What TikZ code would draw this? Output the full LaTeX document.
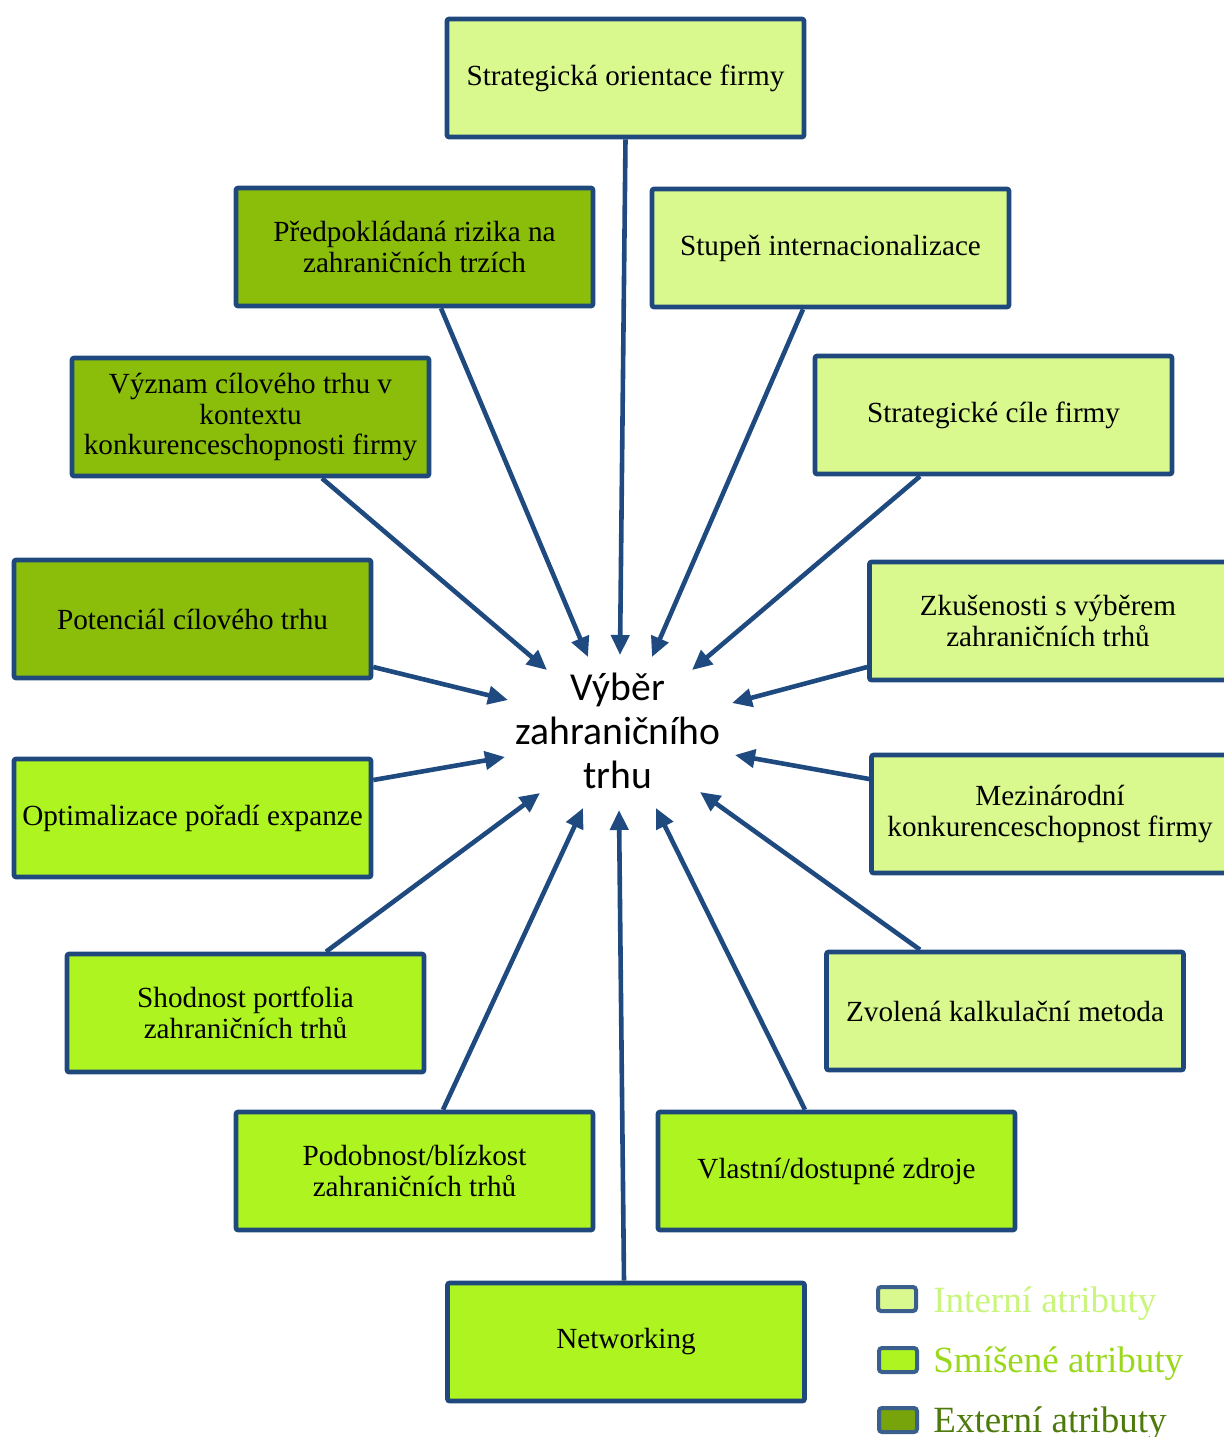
\documentclass[tikz,border=0pt]{standalone}
\usepackage{fontspec}
\setmainfont{Liberation Serif}
\newfontfamily\hubfont{Carlito}
\usetikzlibrary{arrows.meta,calc}

\definecolor{bordblue}{HTML}{1F497D}
\definecolor{arrowblue}{HTML}{1F4A80}
\definecolor{legblue}{HTML}{3A5F8C}
\definecolor{intfill}{HTML}{D9F88E}
\definecolor{mixfill}{HTML}{AEF420}
\definecolor{extfill}{HTML}{8ABE0A}
\definecolor{extleg}{HTML}{76A40A}
\definecolor{inttext}{HTML}{C9F57C}
\definecolor{mixtext}{HTML}{9AD81C}
\definecolor{exttext}{HTML}{4E7A0C}

\tikzset{
  attr/.style={draw=bordblue, line width=2.3pt, rounded corners=1pt,
    minimum width=178.5pt, minimum height=59pt, inner sep=0pt,
    align=center, font=\fontsize{14.6}{15.2}\selectfont},
  internal/.style={attr, fill=intfill},
  mixed/.style={attr, fill=mixfill},
  external/.style={attr, fill=extfill},
  feed/.style={draw=arrowblue, line width=2.3pt,
    -{Triangle[length=10pt,width=9pt]}},
  legbox/.style={draw=legblue, line width=2pt, rounded corners=1.5pt,
    minimum width=19pt, minimum height=12pt, inner sep=0pt},
  legtext/.style={anchor=base west, inner sep=0pt,
    font=\fontsize{18.5}{20}\selectfont},
}

\begin{document}
\begin{tikzpicture}[x=0.5pt, y=-0.5pt]
\useasboundingbox (0,0) rectangle (1224,1437);

% attribute boxes
\node[internal] (b1)  at (625.5,78)  {Strategická orientace firmy};
\node[external] (b2)  at (414.5,247) {Předpokládaná rizika na\\zahraničních trzích};
\node[internal] (b3)  at (830.5,248) {Stupeň internacionalizace};
\node[external] (b4)  at (250.5,417) {Význam cílového trhu v\\kontextu\\konkurenceschopnosti firmy};
\node[internal] (b5)  at (993.5,415) {Strategické cíle firmy};
\node[external] (b6)  at (192.5,619) {Potenciál cílového trhu};
\node[internal] (b7)  at (1048,621)  {Zkušenosti s výběrem\\zahraničních trhů};
\node[mixed]    (b8)  at (192.5,818) {Optimalizace pořadí expanze};
\node[internal] (b9)  at (1050,814)  {Mezinárodní\\konkurenceschopnost firmy};
\node[mixed]    (b10) at (245.5,1013) {Shodnost portfolia\\zahraničních trhů};
\node[internal] (b11) at (1005,1011) {Zvolená kalkulační metoda};
\node[mixed]    (b12) at (414.5,1171) {Podobnost/blízkost\\zahraničních trhů};
\node[mixed]    (b13) at (836.5,1171) {Vlastní/dostupné zdroje};
\node[mixed]    (b14) at (626,1342)  {Networking};

% central topic
\node[align=center, inner sep=0pt, font=\hubfont\fontsize{19.8}{22}\selectfont]
  (hub) at (618,731) {Výběr\\zahraničního\\trhu};

% arrow targets around the central topic
\coordinate (t1)  at (620,655);
\coordinate (t2)  at (588,657);
\coordinate (t3)  at (652,657);
\coordinate (t4)  at (547,670);
\coordinate (t5)  at (692,670);
\coordinate (t6)  at (508,700);
\coordinate (t7)  at (732,703);
\coordinate (t8)  at (505,757);
\coordinate (t9)  at (735,755);
\coordinate (t10) at (540,793);
\coordinate (t11) at (700,792);
\coordinate (t12) at (583,808);
\coordinate (t13) at (656,808);
\coordinate (t14) at (619,810);

% connectors
\draw[feed] (b1.south) -- (t1);
\draw[feed] ($(b2.south)+(26.5,0)$) -- (t2);
\draw[feed] ($(b3.south)+(-27.5,0)$) -- (t3);
\draw[feed] ($(b4.south)+(71.5,0)$) -- (t4);
\draw[feed] ($(b5.south)+(-73.5,0)$) -- (t5);
\draw[feed] ($(b6.east)+(0,48)$) -- (t6);
\draw[feed] ($(b7.west)+(0,46)$) -- (t7);
\draw[feed] ($(b8.east)+(0,-38)$) -- (t8);
\draw[feed] ($(b9.west)+(0,-35)$) -- (t9);
\draw[feed] ($(b10.north)+(80.5,0)$) -- (t10);
\draw[feed] ($(b11.north)+(-85,0)$) -- (t11);
\draw[feed] ($(b12.north)+(28.5,0)$) -- (t12);
\draw[feed] ($(b13.north)+(-31.5,0)$) -- (t13);
\draw[feed] ($(b14.north)+(-2,0)$) -- (t14);

% legend
\node[legbox, fill=intfill] (l1) at (897,1299) {};
\node[legbox, fill=mixfill] (l2) at (898,1360) {};
\node[legbox, fill=extleg]  (l3) at (898,1420) {};
\node[legtext, text=inttext] (lt1) at (933,1312) {Interní atributy};
\node[legtext, text=mixtext] (lt2) at (933,1372) {Smíšené atributy};
\node[legtext, text=exttext] (lt3) at (933,1432) {Externí atributy};
\end{tikzpicture}
\end{document}
